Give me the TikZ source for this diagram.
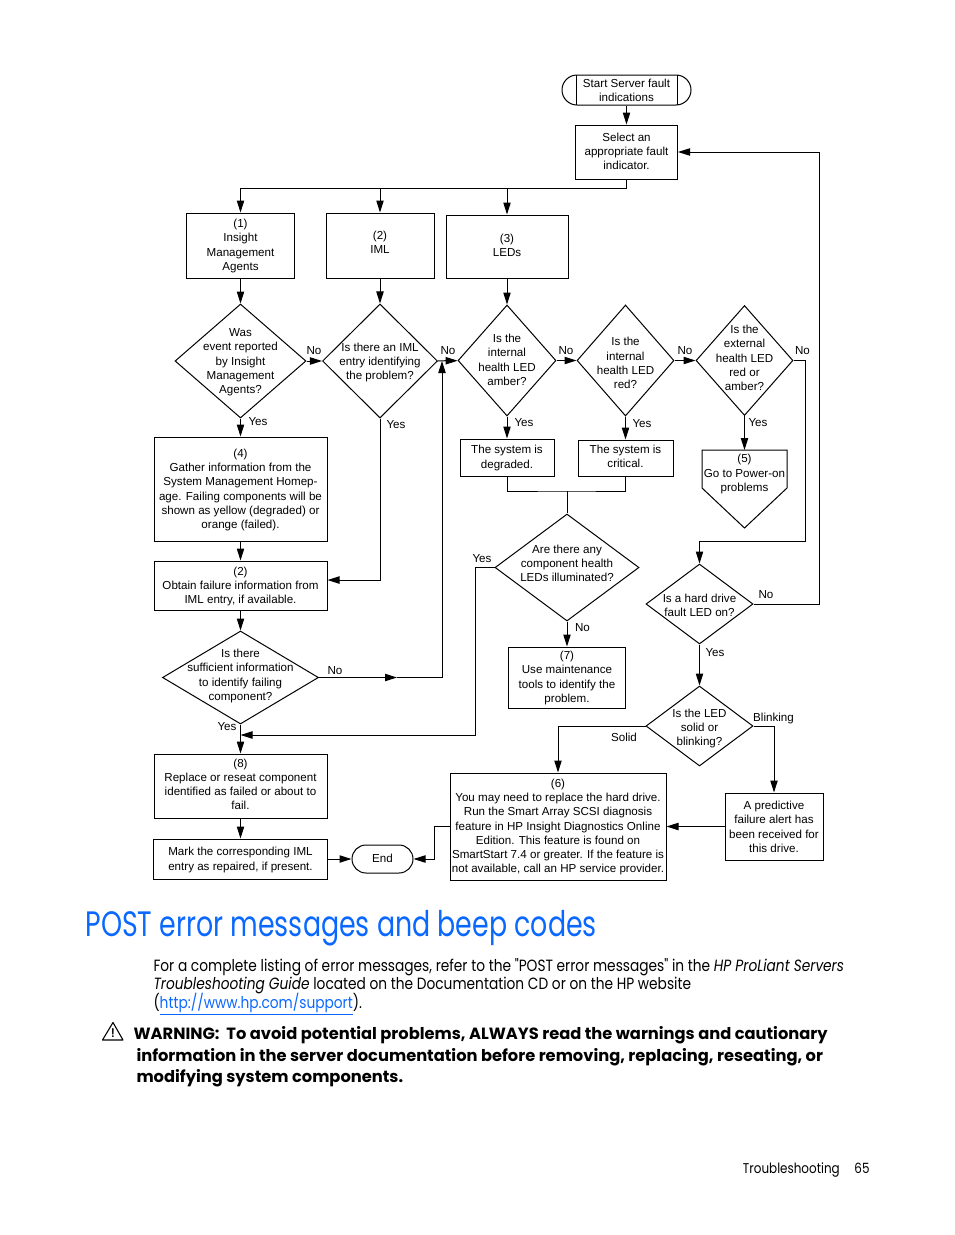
\documentclass[tikz,border=0pt]{standalone}
\usepackage{fontspec}
\setmainfont{Liberation Sans}
\newfontfamily\hpfont[FakeStretch=0.845]{Poppins}
\newfontfamily\titlefont[FakeStretch=0.76]{Poppins}
\newfontfamily\warnfont[FakeStretch=1.0]{Poppins}
\usetikzlibrary{arrows.meta, shapes.geometric, shapes.misc}

\definecolor{hpblue}{RGB}{10,104,255}

% chart text takes no room in its shape; the option moves it up by so many pt
\newcommand{\qlines}[2][0]{\makebox[0pt]{\raisebox{\dimexpr#1pt-5.55pt\relax}{\smash{\begin{tabular}{@{}c@{}}#2\end{tabular}}}}}

\tikzset{
    chartfont/.style={font=\fontsize{8.7}{10.7}\selectfont},
    box/.style 2 args={draw, rectangle, chartfont, inner sep=0pt,
        minimum width=#1*0.75pt, minimum height=#2*0.75pt},
    decision/.style 2 args={draw, diamond, chartfont, inner sep=0pt, aspect=1,
        minimum width=#1*0.75pt, minimum height=#2*0.75pt},
    terminal/.style 2 args={draw, rounded rectangle, chartfont, inner sep=0pt,
        minimum width=#1*0.75pt, minimum height=#2*0.75pt},
    tag/.style={chartfont, inner sep=0pt},
    bodytext/.style={font=\hpfont\fontsize{12.2}{13.9}\selectfont, align=left, inner sep=0pt, anchor=north west},
}

\begin{document}
\begin{tikzpicture}[x=0.75pt, y=-0.75pt, line width=0.75pt, >={Triangle[length=9pt,width=5.5pt]}]
    \useasboundingbox (0,0) rectangle (954,1235);

    % top of the chart
    \node[terminal={129}{30}] (start) at (626.5,90) {\qlines[-1.5]{Start Server fault\\indications}};
    \draw (576,75) -- (576,105);
    \draw (677,75) -- (677,105);
    \node[box={102}{54}] (select) at (626.5,152) {\qlines{Select an\\appropriate fault\\indicator.}};

    \node[box={108}{65}] (agents) at (240.5,245.5) {\qlines{(1)\\Insight\\Management\\Agents}};
    \node[box={108}{65}] (iml) at (380,245.5) {\qlines[3.35]{(2)\\IML}};
    \node[box={122}{63}] (leds) at (507,246.5) {\qlines[1.15]{(3)\\LEDs}};

    % first row of decisions
    \node[decision={131}{114}] (reported) at (240.5,361) {\qlines[-0.75]{Was\\event reported\\by Insight\\Management\\Agents?}};
    \node[decision={115}{114}] (identify) at (380,361) {\qlines[-1.5]{Is there an IML\\entry identifying\\the problem?}};
    \node[decision={98}{111}] (amber) at (507,360.5) {\qlines{Is the\\internal\\health LED\\amber?}};
    \node[decision={97}{111}] (red) at (625.5,360.5) {\qlines[-4.9]{Is the\\internal\\health LED\\red?}};
    \node[decision={97}{110}] (external) at (744.5,360.5) {\qlines[2.95]{Is the\\external\\health LED\\red or\\amber?}};

    \node[box={94}{37}] (degraded) at (507,457.5) {\qlines{The system is\\degraded.}};
    \node[box={95}{36}] (critical) at (625.5,458) {\qlines[1.5]{The system is\\critical.}};

    % off-page shape
    \coordinate (power) at (744.5,450);
    \draw (702,450) -- (787,450) -- (787,488) -- (744.5,528) -- (702,488) -- cycle;
    \node[tag] (powertext) at (744.5,473) {\qlines[-0.75]{(5)\\Go to Power-on\\problems}};

    % left column
    \node[box={173}{104}] (gather) at (240.5,489) {\qlines[-0.75]{(4)\\Gather information from the\\System Management Homep-\\age. Failing components will be\\shown as yellow (degraded) or\\orange (failed).}};
    \node[box={173}{49}] (obtain) at (240.5,585.5) {\qlines[-0.75]{(2)\\Obtain failure information from\\IML entry, if available.}};
    \node[decision={156}{93}] (sufficient) at (240.5,677.5) {\qlines[2.95]{Is there\\sufficient information\\to identify failing\\component?}};
    \node[box={173}{64}] (replace) at (240.5,786) {\qlines[1.5]{(8)\\Replace or reseat component\\identified as failed or about to\\fail.}};
    \node[box={174}{40}] (mark) at (240.5,859) {\qlines[-0.75]{Mark the corresponding IML\\entry as repaired, if present.}};
    \node[terminal={61}{28}] (finish) at (382.5,859) {\qlines{End}};

    % middle and right columns
    \node[decision={144}{107}] (anyled) at (567,567.5) {\qlines[5.25]{Are there any\\component health\\LEDs illuminated?}};
    \node[box={117}{61}] (tools) at (567,677.5) {\qlines{(7)\\Use maintenance\\tools to identify the\\problem.}};
    \node[decision={107}{80}] (harddrive) at (699.5,604) {\qlines[-3]{Is a hard drive\\fault LED on?}};
    \node[decision={107}{80}] (blink) at (699.5,726) {\qlines[-3]{Is the LED\\solid or\\blinking?}};
    \node[box={216}{107}] (drive) at (558,826.5) {\qlines{(6)\\You may need to replace the hard drive.\\Run the Smart Array SCSI diagnosis\\feature in HP Insight Diagnostics Online\\Edition. This feature is found on\\SmartStart 7.4 or greater. If the feature is\\not available, call an HP service provider.}};
    \node[box={98}{67}] (alert) at (774,826.5) {\qlines[-1.5]{A predictive\\failure alert has\\been received for\\this drive.}};

    % connectors
    \coordinate (bus) at (626.5,188);
    \draw[->] (start) -- (select);
    \draw[->] (select.south) -- (bus) -| (agents.north);
    \draw[->] (iml.north |- bus) -- (iml.north);
    \draw[->] (leds.north |- bus) -- (leds.north);
    \draw[->] (agents) -- (reported);
    \draw[->] (iml) -- (identify);
    \draw[->] (leds) -- (amber);
    \draw[->] (reported) -- (identify);
    \draw[->] (identify) -- (amber);
    \draw[->] (amber) -- (red);
    \draw[->] (red) -- (external);
    \draw[->] (reported) -- (gather);
    \draw[->] (amber) -- (degraded);
    \draw[->] (red) -- (critical);
    \draw[->] (external) -- (power);
    \draw[->] (gather) -- (obtain);
    \draw[->] (identify) |- ([yshift=4.1pt]obtain.east);
    \draw[->] (obtain) -- (sufficient);
    \draw[->] (sufficient) -- (replace);
    \draw[->] (replace) -- (mark);
    \draw[->] (mark) -- (finish);

    \coordinate (nomid) at (397,677.5);
    \coordinate (rejoin) at (442,361);
    \draw[->] (sufficient) -- (nomid);
    \draw[->] (nomid) -| (rejoin);

    \coordinate (joinbar) at (567,491);
    \draw (degraded) |- (joinbar) -| (critical);
    \draw (joinbar) -- (anyled);
    \draw[->] (anyled) -- (tools);

    \coordinate (merge) at (240.5,735);
    \draw[->] (anyled.west) -- (475,567.5) |- (merge);

    \draw[->] (external.east) -- (805,360.5) -- (805,541) -| (harddrive.north);
    \draw[->] (harddrive.east) -| (819,152) -- (select.east);
    \draw[->] (harddrive) -- (blink);
    \draw[->] (blink.west) -| (drive.north);
    \draw[->] (blink.east) -| (alert.north);
    \draw[->] (alert) -- (drive);
    \draw[->] (drive.west) -- (434,826.5) |- (finish.east);

    % branch labels
    \node[tag] (no1) at (314,351) {No};
    \node[tag] (no2) at (448,351) {No};
    \node[tag] (no3) at (566,351) {No};
    \node[tag] (no4) at (685,351) {No};
    \node[tag] (no5) at (802.5,351) {No};
    \node[tag] (no6) at (335,671) {No};
    \node[tag] (no7) at (582.5,628) {No};
    \node[tag] (no8) at (766,595) {No};
    \node[tag] (yes1) at (258,422) {Yes};
    \node[tag] (yes2) at (396,425) {Yes};
    \node[tag] (yes3) at (524,423) {Yes};
    \node[tag] (yes4) at (642,424) {Yes};
    \node[tag] (yes5) at (758,423) {Yes};
    \node[tag] (yes6) at (482,559) {Yes};
    \node[tag] (yes7) at (227,727) {Yes};
    \node[tag] (yes8) at (715,653) {Yes};
    \node[tag] (solid) at (624,737) {Solid};
    \node[tag] (blinking) at (773.5,718) {Blinking};

    % text of the page
    \node[anchor=base west, inner sep=0pt, text=hpblue, font=\titlefont\fontsize{26.5}{30}\selectfont] (title) at (85,936) {POST error messages and beep codes};
    \node[bodytext] (intro) at (153,958) {For a complete listing of error messages, refer to the "POST error messages" in the \textit{HP ProLiant Servers}\\\textit{Troubleshooting Guide} located on the Documentation CD or on the HP website\\[-2.2pt](\textcolor{hpblue}{\underline{http://www.hp.com/support}}).};

    \draw[line width=0.8pt, line join=round] (113,1022.5) -- (123,1040) -- (102.5,1040) -- cycle;
    \node[inner sep=0pt, font=\sffamily\bfseries\fontsize{9.5}{10}\selectfont] (warnmark) at (113,1033) {!};
    \node[bodytext, font=\warnfont\bfseries\fontsize{12.2}{16.2}\selectfont] (warning) at (136,1026) {\hspace{-2.2pt}WARNING:\ \ To avoid potential problems, ALWAYS read the warnings and cautionary\\information in the server documentation before removing, replacing, reseating, or\\modifying system components.};

    \node[anchor=base east, inner sep=0pt, font=\hpfont\fontsize{10.6}{13}\selectfont] (footer) at (870,1173) {Troubleshooting\hspace{11pt}65};
\end{tikzpicture}
\end{document}
